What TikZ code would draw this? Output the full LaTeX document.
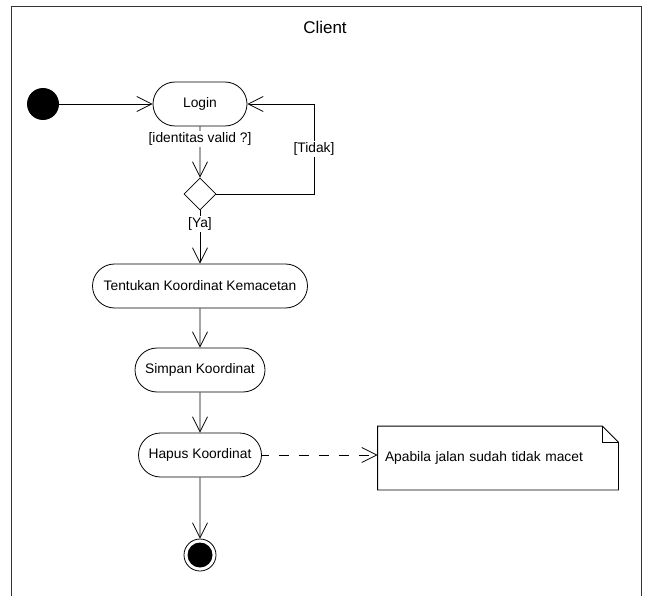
\documentclass[tikz,border=0pt]{standalone}
\usepackage{fontspec}
\setmainfont{Liberation Sans}
\usetikzlibrary{arrows}
\usetikzlibrary{arrows.meta}
\usetikzlibrary{calc}
\usetikzlibrary{shapes.geometric}
\usetikzlibrary{shapes.misc}

\begin{document}
\begin{tikzpicture}[x=1pt, y=-1pt, line width=0.8pt,
  line/.style={-{Straight Barb[length=15pt,width=15pt]}},
  activity/.style={draw, rounded rectangle, minimum height=44pt, inner sep=0pt, font=\fontsize{13.8}{16}\selectfont},
  guard/.style={fill=white, inner sep=1.5pt, font=\fontsize{13.8}{16}\selectfont}]
\useasboundingbox (0,0) rectangle (645,596);

%\draw[step=10pt, color=black!10] (0,0) grid (645,596);
\draw[black!80] (11,596) -- (11,6) -- (641,6) -- (641,596);
\node (client) at (325,27) {\fontsize{17}{19}\selectfont Client};

\coordinate (tidak) at (314,104);

\node[circle, fill=black, minimum size=32pt, inner sep=0pt] (start) at (43,104) {};
\node[activity, minimum width=94pt] (login) at (200,104) {Login};
\node[diamond, draw, minimum size=32pt, inner sep=0pt] (dec) at (200,194) {};
\node[activity, minimum width=215pt] (tentukan) at (200,286) {Tentukan Koordinat Kemacetan};
\node[activity, minimum width=130pt] (simpan) at (200,370) {Simpan Koordinat};
\node[activity, minimum width=123pt] (hapus) at (200,455) {Hapus Koordinat};
\node[circle, draw, minimum size=32pt, inner sep=0pt] (end) at (200,555) {};
\fill (end.center) circle (12.5pt);

\node[minimum width=240pt, minimum height=63pt, text width=226pt, inner xsep=7pt, align=left,
  font=\fontsize{13.8}{16}\selectfont] (note) at (498,458) {Apabila jalan sudah tidak macet};
\draw (note.north west) -- ($(note.north east)+(-16,0)$) -- ($(note.north east)+(0,16)$)
  -- (note.south east) -- (note.south west) -- cycle;
\draw ($(note.north east)+(-16,0)$) |- ($(note.north east)+(0,16)$);

\draw[line] (start) -- (login);
\draw[line] (login) -- node[guard, pos=.24] {[identitas valid ?]} (dec);
\draw[line] (dec.east) -| node[guard, pos=.75] {[Tidak]} (tidak) -- (login.east);
\draw[line] (dec) -- node[guard, pos=.25] {[Ya]} (tentukan);
\draw[line] (tentukan) -- (simpan);
\draw[line] (simpan) -- (hapus);
\draw[line] (hapus) -- (end);
\draw[line, dash pattern=on 10pt off 10pt, dash phase=3pt] (hapus.east) -- (hapus.east -| note.west);

\end{tikzpicture}
\end{document}
